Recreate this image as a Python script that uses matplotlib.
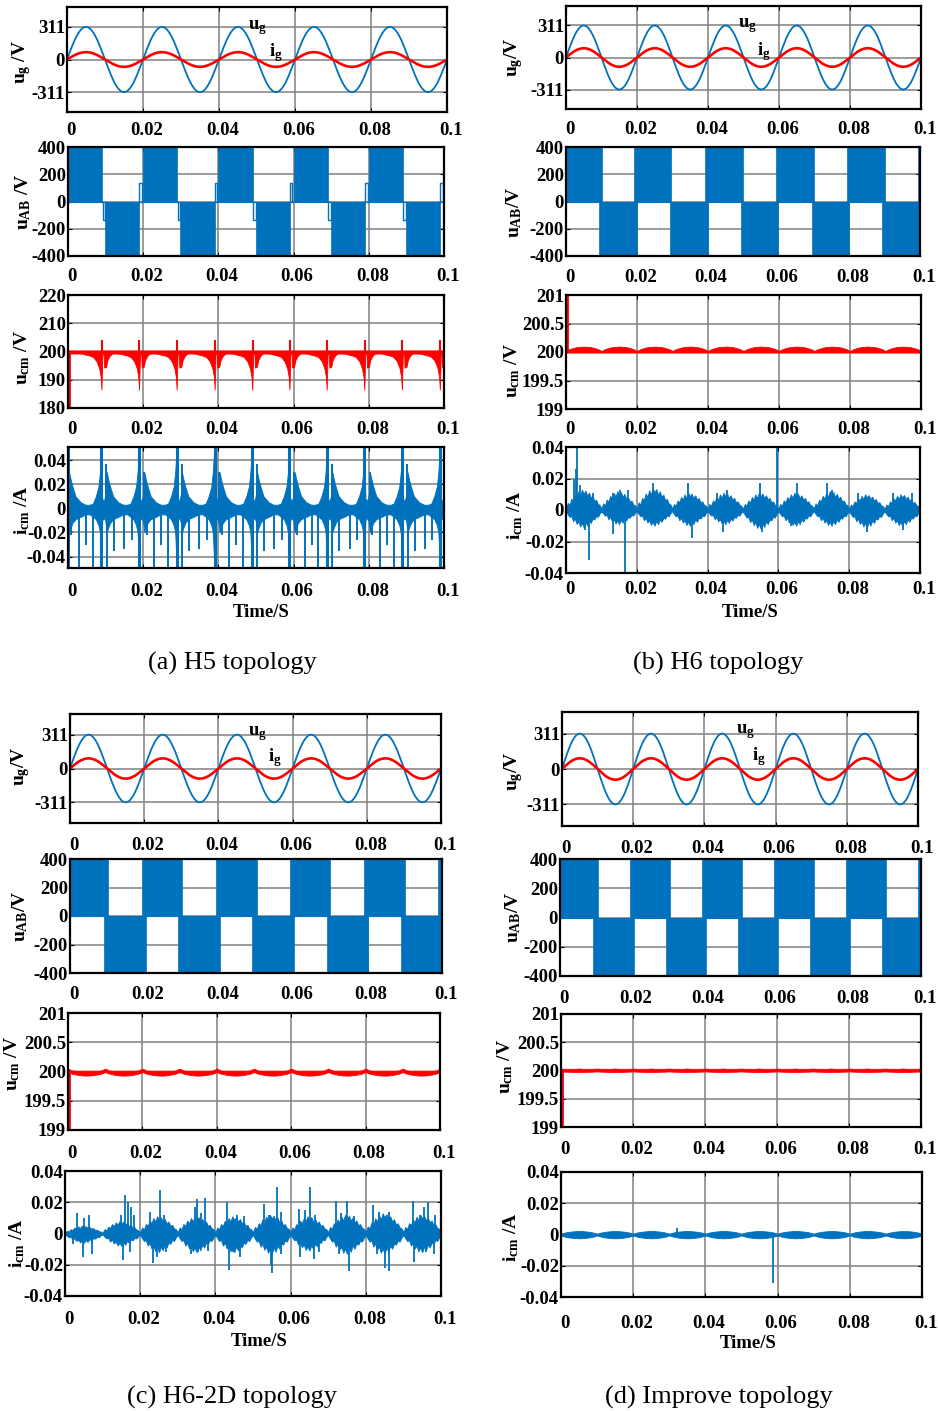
import numpy as np
import matplotlib.pyplot as plt
from matplotlib.transforms import ScaledTranslation

plt.rcParams['font.family'] = ['Liberation Serif', 'DejaVu Serif']
plt.rcParams['mathtext.fontset'] = 'custom'
plt.rcParams['mathtext.rm'] = 'Liberation Serif:bold'
plt.rcParams['mathtext.it'] = 'Liberation Serif:bold'
plt.rcParams['mathtext.bf'] = 'Liberation Serif:bold'

W, H = 938, 1411
BLUE = '#0072BD'
RED = '#FF0000'

# ---------------- values ----------------
x_ticks = [0, 0.02, 0.04, 0.06, 0.08, 0.1]
x_ticklabels = ['0', '0.02', '0.04', '0.06', '0.08', '0.1']

# grid voltage: a quarter wave sampled every 0.5 ms, peak 311 V
ug_quarter = [0, 49, 96, 141, 183, 220, 252, 277, 296, 307, 311]
ug_step = 0.0005
ug_ticks = [-311, 0, 311]
# grid current peak as drawn on the voltage axis, panels a-d
ig_peak = [70, 90, 93, 94]
# label positions of "u_g" / "i_g" (time, value)
ug_tag = [(0.0476, 302), (0.0485, 308), (0.0480, 323), (0.0489, 331)]
ig_tag = [(0.0532, 66), (0.0537, 55), (0.0534, 99), (0.0533, 105)]

# bridge voltage uAB: switching blocks (start, end)
uab_pos = [
    [(0.0, 0.0091), (0.0200, 0.0291), (0.0400, 0.0491), (0.0600, 0.0691), (0.0800, 0.0891)],
    [(0.0, 0.0101), (0.0193, 0.0298), (0.0394, 0.0499), (0.0593, 0.0700), (0.0793, 0.0901), (0.0993, 0.1)],
    [(0.0, 0.0101), (0.0193, 0.0301), (0.0392, 0.0502), (0.0591, 0.0700), (0.0790, 0.0900), (0.0988, 0.1)],
    [(0.0, 0.0104), (0.0194, 0.0305), (0.0394, 0.0503), (0.0593, 0.0704), (0.0792, 0.0903), (0.0991, 0.1)],
]
uab_neg = [
    [(0.0099, 0.0190), (0.0299, 0.0390), (0.0499, 0.0590), (0.0699, 0.0790), (0.0899, 0.0990)],
    [(0.0094, 0.0200), (0.0294, 0.0400), (0.0493, 0.0600), (0.0694, 0.0800), (0.0894, 0.1)],
    [(0.0092, 0.0203), (0.0291, 0.0402), (0.0490, 0.0601), (0.0690, 0.0800), (0.0890, 0.1)],
    [(0.0092, 0.0205), (0.0293, 0.0404), (0.0492, 0.0603), (0.0693, 0.0803), (0.0893, 0.1)],
]
# H5 freewheel steps (start, end, level)
uab_steps_a = [(0.0093, 0.0099, -135), (0.0190, 0.0197, 135), (0.0292, 0.0299, -135),
               (0.0390, 0.0397, 135), (0.0492, 0.0499, -135), (0.0590, 0.0597, 135),
               (0.0692, 0.0699, -135), (0.0790, 0.0797, 135), (0.0892, 0.0899, -135),
               (0.0990, 0.0997, 135)]
uab_ticks = [-400, -200, 0, 200, 400]

# common-mode voltage, H5: event times and band shape around each event
ucm_a_events = [0.0089, 0.0189, 0.0289, 0.0390, 0.0490, 0.0589, 0.0688, 0.0788, 0.0888, 0.0989]
ucm_a_rel = [-0.0065, -0.005, -0.004, -0.003, -0.0022, -0.0013, -0.0006, -0.0002, 0.0,
             0.00025, 0.0006, 0.0007, 0.0012, 0.0016, 0.0022, 0.0028]
ucm_a_low = [199.3, 199.2, 198.8, 198.5, 198.0, 196.5, 194.0, 191.0, 186.5,
             199.0, 199.0, 194.3, 194.5, 197.0, 198.5, 199.2]
ucm_a_high = 200.4
ucm_a_spike = 204.2
ucm_a_ticks = [180, 190, 200, 210, 220]
# H6 / H6-2D / improved: one half cycle sampled every 1 ms
ucm_b_high = [200.02, 200.05, 200.07, 200.085, 200.09, 200.095, 200.09, 200.085, 200.07, 200.05, 200.02]
ucm_b_low = [199.99] * 11
ucm_c_high = [200.05, 200.02, 200.015, 200.015, 200.015, 200.015, 200.015, 200.015, 200.015, 200.02, 200.05]
ucm_c_low = [199.99, 199.965, 199.95, 199.94, 199.932, 199.93, 199.932, 199.94, 199.95, 199.965, 199.99]
ucm_d_high = [200.035, 200.03, 200.03, 200.03, 200.03, 200.035, 200.03, 200.03, 200.03, 200.03, 200.035]
ucm_d_low = [199.985, 199.98, 199.978, 199.976, 199.976, 199.975, 199.976, 199.976, 199.978, 199.98, 199.985]
ucm_ticks = [199, 199.5, 200, 200.5, 201]
ucm_ticklabels = ['199', '199.5', '200', '200.5', '201']

# common-mode current, H5: envelope over each 10 ms (phase, top, bottom)
icm_a_ph = [0.0000, 0.0003, 0.0007, 0.0012, 0.0020, 0.0034, 0.0047, 0.0058,
            0.0066, 0.0074, 0.0081, 0.0085, 0.0088, 0.0091, 0.0095, 0.0099]
icm_a_hi = [0.012, 0.030, 0.024, 0.018, 0.010, 0.005, 0.003, 0.003,
            0.004, 0.010, 0.018, 0.030, 0.045, 0.008, 0.006, 0.010]
icm_a_lo = [-0.012, -0.020, -0.016, -0.012, -0.009, -0.007, -0.005, -0.005,
            -0.007, -0.009, -0.014, -0.020, -0.040, -0.010, -0.008, -0.010]
icm_a_full = [0.0, 0.0088, 0.0188, 0.0289, 0.0390, 0.0490, 0.0589, 0.0688, 0.0787, 0.0888, 0.0989]
icm_a_second_t = [0.0102, 0.0202, 0.0302, 0.0402, 0.0502, 0.0602, 0.0702, 0.0802, 0.0902]
icm_a_second_v = [0.037, 0.030, 0.037, 0.030, 0.037, 0.030, 0.037, 0.030, 0.037]
icm_a_cycles = [0.0, 0.02, 0.04, 0.06, 0.08]
icm_a_neg_ph = [0.0009, 0.0029, 0.0048, 0.0066, 0.0103, 0.0122, 0.0149, 0.0169]
icm_a_neg_v = [-0.022, -0.06, -0.030, -0.06, -0.06, -0.035, -0.034, -0.026]
icm_ticks = [-0.04, -0.02, 0, 0.02, 0.04]
icm_ticklabels = ['-0.04', '-0.02', '0', '0.02', '0.04']

# H6 / H6-2D / improved: lobe per half cycle (peak top, peak bottom) and
# the ragged lobe outline, sampled every 0.5 ms
lobe_top = [0.08, 0.35, 0.25, 0.55, 0.45, 0.75, 0.6, 0.9, 0.7, 1.0, 0.8,
            0.95, 0.7, 0.85, 0.6, 0.7, 0.45, 0.5, 0.3, 0.25, 0.08]
lobe_bot = [0.08, 0.25, 0.4, 0.35, 0.65, 0.5, 0.8, 0.65, 0.95, 0.75, 1.0,
            0.7, 0.9, 0.6, 0.75, 0.5, 0.55, 0.35, 0.4, 0.2, 0.08]
lobe_smooth = [0.25, 0.4, 0.55, 0.65, 0.75, 0.82, 0.88, 0.93, 0.97, 1.0, 1.0,
               1.0, 0.97, 0.93, 0.88, 0.82, 0.75, 0.65, 0.55, 0.4, 0.25]
icm_b_hi = [0.013, 0.012, 0.014, 0.011, 0.011, 0.011, 0.011, 0.012, 0.010, 0.010]
icm_b_lo = [-0.011, -0.009, -0.010, -0.010, -0.009, -0.012, -0.010, -0.010, -0.011, -0.010]
icm_c_hi = [0.005, 0.008, 0.011, 0.011, 0.011, 0.012, 0.011, 0.012, 0.013, 0.012]
icm_c_lo = [-0.006, -0.008, -0.012, -0.012, -0.012, -0.013, -0.011, -0.013, -0.013, -0.012]
icm_d_hi = [0.0022] * 10
icm_d_lo = [-0.0024] * 10
# spikes (time, value)
icm_b_spikes = [(0.0, -0.06), (0.0023, 0.020), (0.0027, 0.026), (0.0032, 0.06), (0.0040, 0.016),
                (0.0077, 0.011), (0.0134, 0.011), (0.0153, 0.0127), (0.0176, 0.0127),
                (0.0247, 0.017), (0.0346, 0.0174), (0.0426, 0.011), (0.0454, 0.0127),
                (0.0548, 0.0174), (0.0597, 0.06), (0.0652, 0.017), (0.0736, 0.0174),
                (0.0750, 0.0127), (0.0826, 0.011), (0.0925, 0.0106), (0.0976, 0.0106),
                (0.0054, -0.013), (0.0066, -0.032), (0.0134, -0.015), (0.0167, -0.06),
                (0.0355, -0.018), (0.0444, -0.014), (0.0553, -0.014), (0.0637, -0.010),
                (0.0849, -0.014), (0.0953, -0.013)]
icm_c_spikes = [(0.0, 0.04), (0.0031, 0.013), (0.0050, 0.010), (0.0065, 0.012), (0.0148, 0.012),
                (0.0160, 0.0245), (0.0168, 0.020), (0.0175, 0.017), (0.0183, 0.012),
                (0.0226, 0.014), (0.0253, 0.0277), (0.0262, 0.012), (0.0345, 0.017),
                (0.0352, 0.022), (0.0362, 0.013), (0.0372, 0.023), (0.0432, 0.020),
                (0.0458, 0.012), (0.0475, 0.011), (0.0529, 0.0186), (0.0543, 0.012),
                (0.0563, 0.0295), (0.0575, 0.014), (0.0622, 0.016), (0.0638, 0.015),
                (0.0651, 0.0295), (0.0665, 0.012), (0.0721, 0.021), (0.0735, 0.013),
                (0.0749, 0.021), (0.0768, 0.011), (0.0820, 0.018), (0.0835, 0.014),
                (0.0862, 0.014), (0.0926, 0.021), (0.0945, 0.012), (0.0955, 0.017),
                (0.0966, 0.020), (0.0985, 0.012),
                (0.0022, -0.007), (0.0047, -0.015), (0.0071, -0.013), (0.0155, -0.017),
                (0.0172, -0.012), (0.0234, -0.019), (0.0245, -0.015), (0.0268, -0.012),
                (0.0334, -0.013), (0.0355, -0.012), (0.0380, -0.011), (0.0437, -0.0235),
                (0.0447, -0.012), (0.0466, -0.015), (0.0547, -0.020), (0.0551, -0.025),
                (0.0575, -0.013), (0.0625, -0.015), (0.0661, -0.016), (0.0675, -0.012),
                (0.0730, -0.013), (0.0756, -0.024), (0.0830, -0.013), (0.0851, -0.022),
                (0.0862, -0.024), (0.0929, -0.018), (0.0960, -0.012), (0.0982, -0.013)]
icm_d_spikes = [(0.0, 0.04), (0.0320, 0.004), (0.0588, -0.031)]

captions = ['(a) H5 topology', '(b) H6 topology', '(c) H6-2D topology', '(d) Improve topology']

# ---------------- layout (pixels of the reference) ----------------
rects = [
    [(67, 7, 447, 112), (68, 147, 444, 256), (68, 295, 444, 408), (68, 447, 444, 568)],
    [(566, 6, 921, 109), (566, 147, 920, 256), (566, 295, 921, 409), (566, 447, 920, 573)],
    [(70, 714, 441, 823), (70, 859, 442, 973), (68, 1013, 440, 1130), (65, 1171, 441, 1296)],
    [(562, 712, 918, 826), (560, 859, 921, 976), (561, 1014, 921, 1127), (561, 1172, 922, 1297)],
]
xpads = [[10, 12, 13, 15], [12, 13, 12, 8], [14, 13, 15, 15], [14, 14, 14, 18]]
ylab_pos = [
    [(22, 62), (23, 202), (22, 358), (22, 510)],
    [(514, 57), (514, 212), (512, 371), (515, 515)],
    [(21, 766), (20, 916), (12, 1064), (17, 1243)],
    [(514, 771), (513, 917), (505, 1067), (511, 1237)],
]
ylab_text = [
    ['$u_{g}$ /V', '$u_{AB}$ /V', '$u_{cm}$ /V', '$i_{cm}$ /A'],
    ['$u_{g}$/V', '$u_{AB}$/V', '$u_{cm}$ /V', '$i_{cm}$ /A'],
    ['$u_{g}$/V', '$u_{AB}$/V', '$u_{cm}$ /V', '$i_{cm}$ /A'],
    ['$u_{g}$/V', '$u_{AB}$/V', '$u_{cm}$ /V', '$i_{cm}$ /A'],
]
time_pos = [(261, 612), (750, 612), (259, 1342), (748, 1343)]
cap_pos = [(232, 663), (718, 663), (232, 1397), (719, 1397)]

fig = plt.figure(figsize=(W / 100, H / 100), dpi=100)


def add_ax(rect):
    l, t, r, b = rect
    return fig.add_axes([l / W, 1 - b / H, (r - l) / W, (b - t) / H])


def style(ax, pad, yticks, yticklabels, ylim):
    ax.set_xlim(0, 0.1)
    ax.set_ylim(*ylim)
    ax.set_xticks(x_ticks)
    ax.set_xticklabels(x_ticklabels)
    ax.set_yticks(yticks)
    ax.set_yticklabels(yticklabels)
    ax.set_axisbelow(True)
    ax.grid(True, color='0.5', lw=1.1)
    ax.tick_params(direction='in', length=3, width=0.8, top=True, right=True, labelsize=13.5)
    ax.tick_params(axis='x', pad=pad / 1.389)
    ax.tick_params(axis='y', pad=1.5)
    for s in ax.spines.values():
        s.set_linewidth(1.6)
    shift = ScaledTranslation(3.5 / 100, 0, fig.dpi_scale_trans)
    for lab in ax.get_xticklabels():
        lab.set_fontweight('bold')
        lab.set_transform(lab.get_transform() + shift)
    for lab in ax.get_yticklabels():
        lab.set_fontweight('bold')


def tile(template, n=10, step=0.001):
    t, v = [], []
    for k in range(n):
        for j, val in enumerate(template):
            t.append(k * 0.01 + j * step)
            v.append(val)
    return np.array(t), np.array(v)


# sine traces
half = ug_quarter + ug_quarter[-2::-1]
period = half + [-v for v in half[1:]]
ug_wave = np.array(period[:-1] * 5 + [0], dtype=float)
t_wave = np.arange(len(ug_wave)) * ug_step

for p in range(4):
    axs = [add_ax(r) for r in rects[p]]

    # grid voltage and current
    ax = axs[0]
    ax.plot(t_wave, ug_wave, color=BLUE, lw=1.3)
    ax.plot(t_wave, ug_wave * ig_peak[p] / 311, color=RED, lw=1.9)
    ax.text(*ug_tag[p], '$u_{g}$', fontsize=13.5, ha='left', va='center')
    ax.text(*ig_tag[p], '$i_{g}$', fontsize=13.5, ha='left', va='center')
    style(ax, xpads[p][0], ug_ticks, [str(v) for v in ug_ticks], (-500, 500))

    # bridge voltage
    ax = axs[1]
    ax.plot([0, 0.1], [0, 0], color=BLUE, lw=0.8)
    for s, e in uab_pos[p]:
        ax.fill_between([s, e], 0, 400, color=BLUE, lw=0.5)
    for s, e in uab_neg[p]:
        ax.fill_between([s, e], -400, 0, color=BLUE, lw=0.5)
    if p == 0:
        for s, e, lv in uab_steps_a:
            ax.plot([s, s, e, e], [0, lv, lv, 0], color=BLUE, lw=1.0)
    style(ax, xpads[p][1], uab_ticks, [str(v) for v in uab_ticks], (-400, 400))

    # common-mode voltage
    ax = axs[2]
    if p == 0:
        tt, lo, hi = [0.0], [199.3], [ucm_a_high]
        for ev in ucm_a_events:
            for r, lv in zip(ucm_a_rel, ucm_a_low):
                if 0 < ev + r <= 0.1:
                    tt.append(ev + r)
                    lo.append(lv)
                    hi.append(ucm_a_high)
        ax.fill_between(tt, lo, hi, color=RED, lw=0.6)
        ax.vlines([e + 0.0001 for e in ucm_a_events], 200, ucm_a_spike, color=RED, lw=1.5)
        ax.vlines([0.0003], 180, 200, color=RED, lw=2.0)
        style(ax, xpads[p][2], ucm_a_ticks, [str(v) for v in ucm_a_ticks], (180, 220))
    else:
        hi_t, lo_t = [(ucm_b_high, ucm_b_low), (ucm_c_high, ucm_c_low), (ucm_d_high, ucm_d_low)][p - 1]
        tt, hi = tile(hi_t)
        _, lo = tile(lo_t)
        ax.fill_between(tt, lo, hi, color=RED, lw=0.6)
        if p == 1:
            ax.vlines([0.0002], 200, 201, color=RED, lw=2.0)
        else:
            ax.vlines([0.0002], 199, 200, color=RED, lw=2.0)
        style(ax, xpads[p][2], ucm_ticks, ucm_ticklabels, (199, 201))

    # common-mode current
    ax = axs[3]
    if p == 0:
        tt, lo, hi = [], [], []
        for k in range(10):
            for ph, h, l in zip(icm_a_ph, icm_a_hi, icm_a_lo):
                tt.append(k * 0.01 + ph)
                hi.append(h)
                lo.append(l)
        ax.fill_between(tt, lo, hi, color=BLUE, lw=0.6)
        ax.vlines(icm_a_full, -0.06, 0.06, color=BLUE, lw=2.2)
        ax.vlines(icm_a_second_t, 0, icm_a_second_v, color=BLUE, lw=1.4)
        neg_t, neg_v = [], []
        for c in icm_a_cycles:
            for ph, v in zip(icm_a_neg_ph, icm_a_neg_v):
                neg_t.append(c + ph)
                neg_v.append(v)
        ax.vlines(neg_t, 0, neg_v, color=BLUE, lw=1.4)
        style(ax, xpads[p][3], icm_ticks, icm_ticklabels, (-0.0494, 0.0508))
    else:
        hi_l, lo_l, spikes = [(icm_b_hi, icm_b_lo, icm_b_spikes),
                              (icm_c_hi, icm_c_lo, icm_c_spikes),
                              (icm_d_hi, icm_d_lo, icm_d_spikes)][p - 1]
        top = lobe_smooth if p == 3 else lobe_top
        bot = lobe_smooth if p == 3 else lobe_bot
        tt, lo, hi = [], [], []
        for k in range(10):
            for j in range(len(top)):
                tt.append(k * 0.01 + j * 0.0005)
                hi.append(hi_l[k] * top[j])
                lo.append(lo_l[k] * bot[j])
        ax.fill_between(tt, lo, hi, color=BLUE, lw=0.6)
        ax.vlines([s[0] for s in spikes], 0, [s[1] for s in spikes], color=BLUE, lw=1.3)
        style(ax, xpads[p][3], icm_ticks, icm_ticklabels, (-0.04, 0.04))

    # labels
    for i in range(4):
        x, y = ylab_pos[p][i]
        fig.text(x / W, 1 - y / H, ylab_text[p][i], rotation=90, fontsize=14,
                 fontweight='bold', ha='center', va='center')
    fig.text(time_pos[p][0] / W, 1 - time_pos[p][1] / H, 'Time/S', fontsize=13.5,
             fontweight='bold', ha='center', va='center')
    fig.text(cap_pos[p][0] / W, 1 - cap_pos[p][1] / H, captions[p], fontsize=19,
             ha='center', va='center')

fig.savefig('out.png', dpi=100)
